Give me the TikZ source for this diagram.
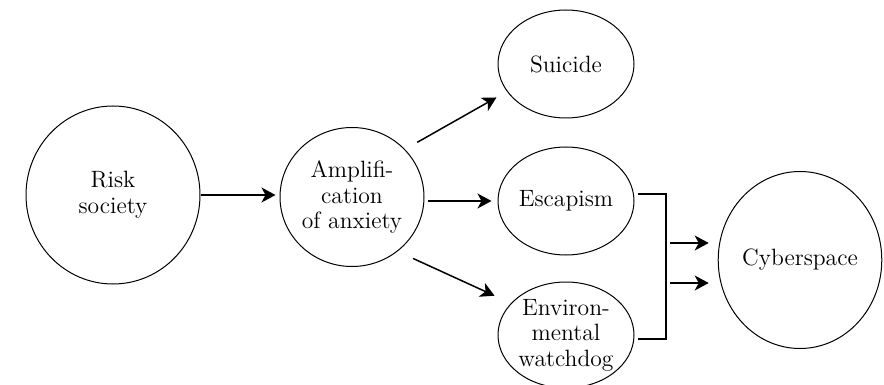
\documentclass[tikz,border=0pt]{standalone}
\usetikzlibrary{shapes.geometric,arrows.meta}
\begin{document}
\begin{tikzpicture}[x=0.5pt,y=-0.5pt,
    bubble/.style={draw,ellipse,line width=0.5pt,inner sep=0pt,align=center,
      font=\fontsize{11.8}{12.8}\selectfont},
    arr/.style={-{Stealth[length=7pt,width=7.5pt,inset=2pt]},line width=0.75pt}]
  \useasboundingbox (0,0) rectangle (884,385);
  \node[bubble,minimum width=87pt,minimum height=89pt] (risk) at (113,195) {Risk\\society};
  \node[bubble,minimum width=72pt,minimum height=69.5pt] (amp) at (352,197) {Amplifi-\\cation\\of anxiety};
  \node[bubble,minimum width=68pt,minimum height=54pt] (sui) at (566,64) {Suicide};
  \node[bubble,minimum width=68pt,minimum height=54pt] (esc) at (566,201) {Escapism};
  \node[bubble,minimum width=68pt,minimum height=53pt] (env) at (566,335) {Environ-\\mental\\watchdog};
  \node[bubble,minimum width=79pt,minimum height=88.5pt] (cyb) at (800,260) {Cyberspace};
  \draw[arr,shorten >=2pt] (risk.east) -- (risk.east -| amp.west);
  \draw[arr,shorten <=7pt,shorten >=6pt] (amp.42) -- (sui.205);
  \draw[arr,shorten <=1.5pt,shorten >=3pt] (esc.west -| amp.east) -- (esc.west);
  \draw[arr,shorten <=8.5pt,shorten >=9pt] (amp.-50) -- (env.150);
  \coordinate (escout) at ([shift={(3,-7)}]esc.east);
  \coordinate (envout) at ([shift={(3,4)}]env.east);
  \coordinate (brk) at (666,0);
  \draw[line width=0.75pt] (escout) -- (escout -| brk) -- (envout -| brk) -- (envout);
  \coordinate (in1) at (670,243);
  \coordinate (in2) at (670,283);
  \draw[arr,shorten >=4.5pt] (in1) -- (in1 -| cyb.west);
  \draw[arr,shorten >=4.5pt] (in2) -- (in2 -| cyb.west);
\end{tikzpicture}
\end{document}
